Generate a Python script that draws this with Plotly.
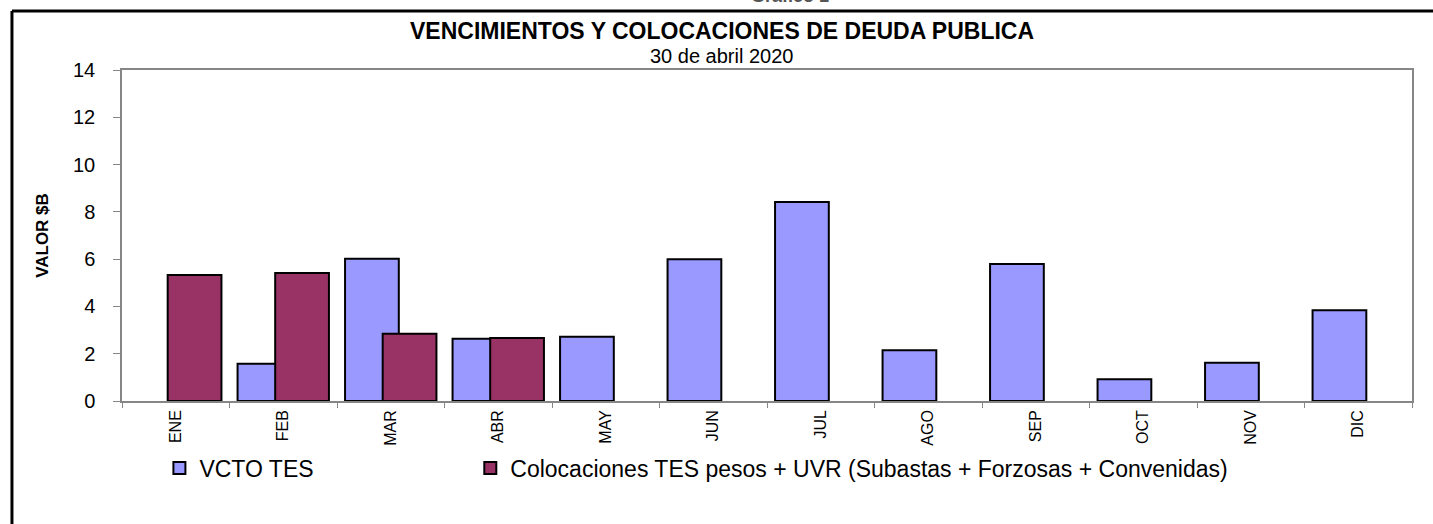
import plotly.graph_objects as go

# Monthly maturities and placements of public debt (billions of pesos)
meses = ["ENE", "FEB", "MAR", "ABR", "MAY", "JUN", "JUL", "AGO", "SEP", "OCT", "NOV", "DIC"]
vcto_tes = [None, 1.58, 6.02, 2.63, 2.72, 6.0, 8.42, 2.15, 5.79, 0.92, 1.62, 3.84]
colocaciones = [5.33, 5.41, 2.84, 2.66, None, None, None, None, None, None, None, None]

FONT = "Liberation Sans, Arial, sans-serif"
GRIS = "#868686"

fig = go.Figure()
fig.add_trace(go.Bar(
    x=meses, y=vcto_tes, name="VCTO TES",
    width=0.5, offset=-0.425, legend="legend",
    marker=dict(color="#9999FF", line=dict(color="black", width=2)),
))
fig.add_trace(go.Bar(
    x=meses, y=colocaciones,
    name="Colocaciones TES pesos + UVR (Subastas + Forzosas + Convenidas)",
    width=0.5, offset=-0.075, legend="legend2",
    marker=dict(color="#993366", line=dict(color="black", width=2)),
))

# Outer frame of the chart (top and left edges)
fig.add_shape(type="line", xref="paper", yref="paper",
              x0=-0.0853, x1=1.03, y0=1.178, y1=1.178,
              line=dict(color="black", width=3))
fig.add_shape(type="line", xref="paper", yref="paper",
              x0=-0.0853, x1=-0.0853, y0=1.178, y1=-0.4,
              line=dict(color="black", width=3))

annotations = [
    dict(text="<b>VENCIMIENTOS Y COLOCACIONES DE DEUDA PUBLICA</b>",
         xref="paper", yref="paper", x=0.4651, y=1.1178, xanchor="center", yanchor="middle",
         showarrow=False, font=dict(family=FONT, size=23, color="black")),
    dict(text="30 de abril 2020",
         xref="paper", yref="paper", x=0.4651, y=1.042, xanchor="center", yanchor="middle",
         showarrow=False, font=dict(family=FONT, size=20, color="black")),
    dict(text="<b>Gráfico 1</b>",
         xref="paper", yref="paper", x=0.518, y=1.2236, xanchor="center", yanchor="middle",
         showarrow=False, font=dict(family=FONT, size=18, color="#555555")),
]

legend_common = dict(orientation="h", xanchor="left", yanchor="middle", y=-0.2024,
                     font=dict(family=FONT, size=23, color="black"),
                     bgcolor="rgba(0,0,0,0)")

fig.update_layout(
    width=1433, height=524,
    margin=dict(l=122, r=21, t=70, b=123, autoexpand=False),
    paper_bgcolor="white", plot_bgcolor="white",
    barmode="overlay",
    showlegend=True,
    legend=dict(x=0.029, **legend_common),
    legend2=dict(x=0.27, **legend_common),
    annotations=annotations,
    font=dict(family=FONT, color="black"),
)

fig.update_xaxes(
    type="category", range=[-0.5, 11.5],
    showline=True, linecolor=GRIS, linewidth=1.5, mirror=True,
    ticks="outside", tickson="boundaries", ticklen=5, tickcolor=GRIS, tickwidth=1,
    tickangle=-90, tickfont=dict(family=FONT, size=16, color="black"),
    ticklabelstandoff=1, showgrid=False, zeroline=False,
)
fig.update_yaxes(
    range=[0, 14], dtick=2, tick0=0,
    showline=True, linecolor=GRIS, linewidth=1.5, mirror=True,
    ticks="outside", ticklen=7, tickcolor=GRIS, tickwidth=1,
    tickfont=dict(family=FONT, size=20, color="black"),
    ticklabelstandoff=14, showgrid=False, zeroline=False,
    title=dict(text="<b>VALOR $B</b>", font=dict(family=FONT, size=17, color="black"), standoff=20),
)

fig.write_html("out.html")
